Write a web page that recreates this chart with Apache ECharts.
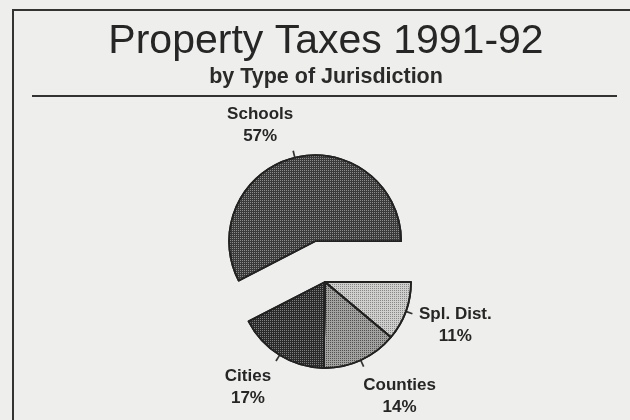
<!DOCTYPE html>
<html>
<head>
<meta charset="utf-8">
<script src="https://cdn.jsdelivr.net/npm/echarts@6/dist/echarts.min.js"></script>
<style>
  html, body { margin: 0; padding: 0; background: #eeeeec; }
  #chart { width: 630px; height: 420px; }
</style>
</head>
<body>
<div id="chart"></div>
<script>
// jurisdictions, drawn clockwise from 3 o'clock
const categories = ['Spl. Dist.', 'Counties', 'Cities', 'Schools']
const shares = [11, 14, 17, 57]
const pulledOut = 'Schools'

// screen fill + dot texture per slice
const fills = ['#cfcfcd', '#a2a2a0', '#2a2a2a', '#3a3a39']
const dots = ['rgba(0,0,0,0.35)', 'rgba(0,0,0,0.5)', 'rgba(255,255,255,0.4)', 'rgba(255,255,255,0.42)']
// where each label sits relative to the end of its tick
const labelShift = {
  'Spl. Dist.': [43, 12],
  'Counties': [36, 30],
  'Cities': [-28, 26],
  'Schools': [-33, -25]
}

const myChart = echarts.init(document.getElementById('chart'))

const baseCenter = [325, 282]
const explode = 42

// angle of the pulled-out slice's middle (start at 3 o'clock, clockwise)
const total = shares.reduce((a, b) => a + b, 0)
let before = 0
for (let i = 0; i < categories.indexOf(pulledOut); i++) before += shares[i]
const midDeg = (before + shares[categories.indexOf(pulledOut)] / 2) / total * 360
const midRad = midDeg * Math.PI / 180
const outCenter = [baseCenter[0] + explode * Math.cos(midRad), baseCenter[1] + explode * Math.sin(midRad)]

function buildData (showOut) {
  return categories.map((name, i) => {
    const visible = (name === pulledOut) === showOut
    if (!visible) {
      return {
        name: name,
        value: shares[i],
        itemStyle: { color: 'rgba(0,0,0,0)', borderWidth: 0, decal: null },
        label: { show: false },
        labelLine: { show: false }
      }
    }
    return {
      name: name,
      value: shares[i],
      itemStyle: {
        color: fills[i],
        decal: {
          symbol: 'rect',
          symbolSize: 1,
          dashArrayX: [1, 1],
          dashArrayY: [1, 1],
          color: dots[i]
        }
      }
    }
  })
}

function pieSeries (center, showOut) {
  return {
    type: 'pie',
    center: center,
    radius: 86,
    startAngle: 0,
    clockwise: true,
    avoidLabelOverlap: false,
    silent: true,
    animation: false,
    itemStyle: {
      borderColor: '#222',
      borderWidth: 1.8
    },
    label: {
      show: true,
      position: 'outside',
      formatter: '{b}\n{c}%',
      fontFamily: 'Liberation Sans',
      fontWeight: 'bold',
      fontSize: 17,
      lineHeight: 22,
      color: '#262626'
    },
    labelLine: {
      show: true,
      length: 7,
      length2: 0,
      lineStyle: { color: '#333', width: 1.7 }
    },
    labelLayout: function (params) {
      const pts = params.labelLinePoints
      if (!pts) return {}
      const name = categories[params.dataIndex]
      const end = pts[pts.length - 1]
      const s = labelShift[name]
      return {
        x: end[0] + s[0],
        y: end[1] + s[1],
        align: 'center',
        verticalAlign: 'middle',
        labelLinePoints: pts
      }
    },
    data: buildData(showOut)
  }
}

myChart.setOption({
  backgroundColor: '#eeeeec',
  title: {
    text: 'Property Taxes 1991-92',
    subtext: 'by Type of Jurisdiction',
    left: 321,
    textAlign: 'center',
    top: 16,
    itemGap: 4,
    textStyle: {
      fontFamily: 'Liberation Sans',
      fontSize: 41,
      fontWeight: 'normal',
      color: '#262626'
    },
    subtextStyle: {
      fontFamily: 'Liberation Sans',
      fontSize: 21.5,
      fontWeight: 'bold',
      color: '#2a2a2a'
    }
  },
  graphic: [
    {
      type: 'polyline',
      shape: { points: [[13, 420], [13, 10], [630, 10]] },
      style: { stroke: '#333', lineWidth: 2, fill: null }
    },
    {
      type: 'line',
      shape: { x1: 32, y1: 96, x2: 617, y2: 96 },
      style: { stroke: '#333', lineWidth: 2 }
    }
  ],
  series: [
    pieSeries(baseCenter, false),
    pieSeries(outCenter, true)
  ]
})
</script>
</body>
</html>
